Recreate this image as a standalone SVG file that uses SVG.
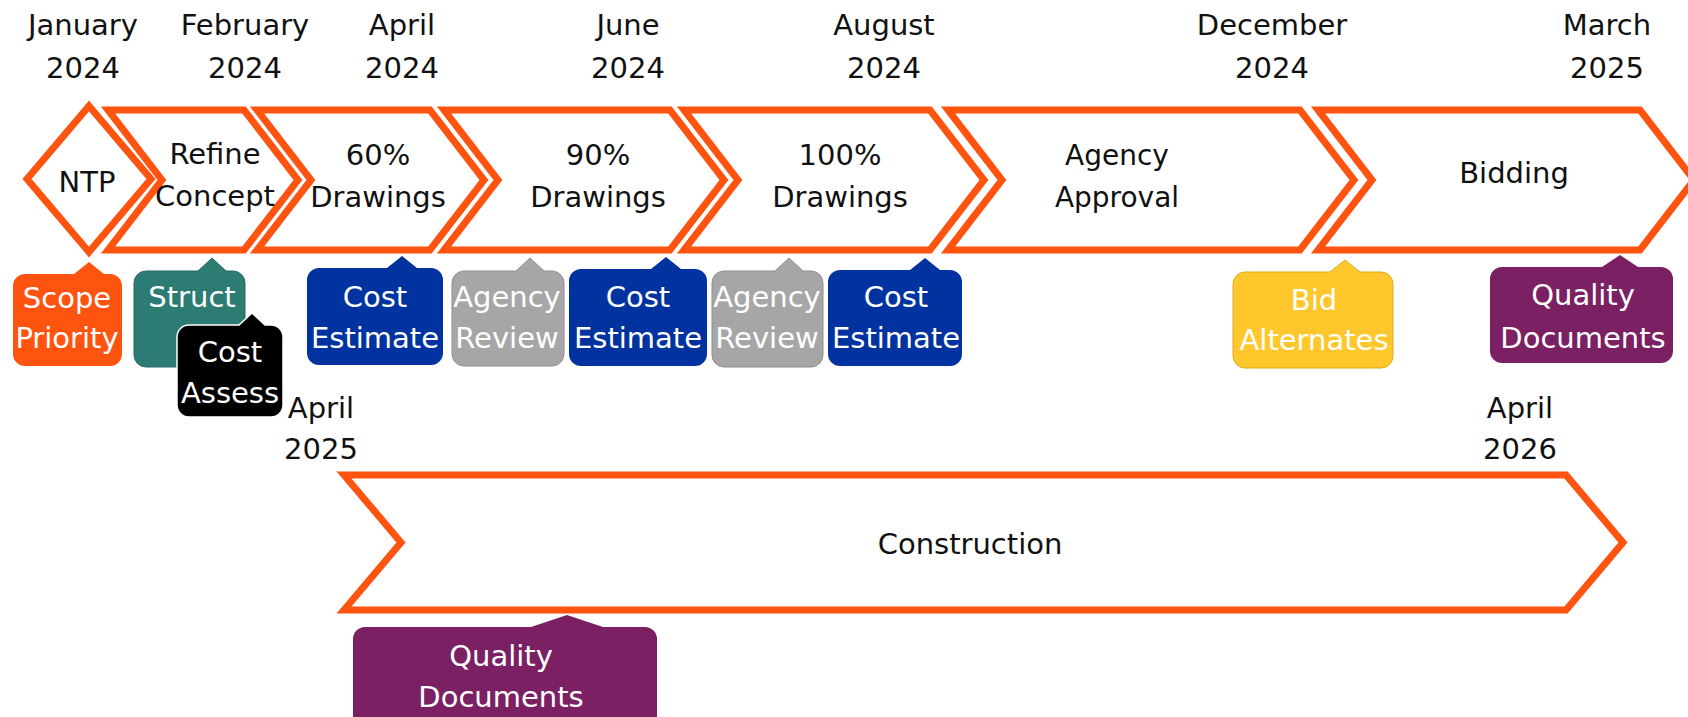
<svg xmlns="http://www.w3.org/2000/svg" width="1688" height="717" viewBox="0 0 1688 717">
<style>
.chev{fill:#fff;stroke:#FF5310;stroke-width:7;stroke-linejoin:miter;stroke-miterlimit:10}
.t{font-family:"DejaVu Sans","Liberation Sans",sans-serif;font-size:29px;fill:#111;text-anchor:middle}
.w{fill:#fff}
.c{font-size:28px}
</style>
<rect width="1688" height="717" fill="#fff"/>
<g id="dates">
<text class="t" x="83" y="35">January</text><text class="t" x="83" y="78">2024</text>
<text class="t" x="245" y="35">February</text><text class="t" x="245" y="78">2024</text>
<text class="t" x="402" y="35">April</text><text class="t" x="402" y="78">2024</text>
<text class="t" x="628" y="35">June</text><text class="t" x="628" y="78">2024</text>
<text class="t" x="884" y="35">August</text><text class="t" x="884" y="78">2024</text>
<text class="t" x="1272" y="35">December</text><text class="t" x="1272" y="78">2024</text>
<text class="t" x="1607" y="35">March</text><text class="t" x="1607" y="78">2025</text>
<text class="t" x="321" y="418">April</text><text class="t" x="321" y="459">2025</text>
<text class="t" x="1520" y="418">April</text><text class="t" x="1520" y="459">2026</text>
</g>
<g id="ntp"><path class="chev" d="M89,106 L151,179 L89,252 L27,179 Z"/><text class="t" x="87" y="192">NTP</text></g>
<g id="refine"><path class="chev" d="M108,110 L244,110 L298,180 L244,250 L108,250 L162,180 Z"/><text class="t" x="215" y="164">Refine</text><text class="t" x="215" y="206">Concept</text></g>
<g id="d60"><path class="chev" d="M257,110 L430,110 L484,180 L430,250 L257,250 L311,180 Z"/><text class="t" x="378" y="165">60%</text><text class="t" x="378" y="207">Drawings</text></g>
<g id="d90"><path class="chev" d="M444,110 L670,110 L724,180 L670,250 L444,250 L498,180 Z"/><text class="t" x="598" y="165">90%</text><text class="t" x="598" y="207">Drawings</text></g>
<g id="d100"><path class="chev" d="M684,110 L930,110 L984,180 L930,250 L684,250 L738,180 Z"/><text class="t" x="840" y="165">100%</text><text class="t" x="840" y="207">Drawings</text></g>
<g id="agency"><path class="chev" d="M948,110 L1300,110 L1354,180 L1300,250 L948,250 L1002,180 Z"/><text class="t c" x="1117" y="165">Agency</text><text class="t c" x="1117" y="207">Approval</text></g>
<g id="bidding"><path class="chev" d="M1318,110 L1640,110 L1694,180 L1640,250 L1318,250 L1372,180 Z"/><text class="t" x="1514" y="183">Bidding</text></g>
<g id="construction"><path class="chev" d="M344,475 L1566,475 L1623,542.5 L1566,610 L344,610 L401,542.5 Z"/><text class="t" x="970" y="554">Construction</text></g>
<g id="connectors"/>
<g id="scope"><path fill="#FF5310" d="M25,274 L74,274 L89,262 L104,274 L110,274 A12,12 0 0 1 122,286 L122,354 A12,12 0 0 1 110,366 L25,366 A12,12 0 0 1 13,354 L13,286 A12,12 0 0 1 25,274 Z"/><text class="t w" x="67" y="308">Scope</text><text class="t w" x="67" y="348">Priority</text></g>
<g id="struct"><path fill="#2C7C74" stroke="#256A63" stroke-width="1" d="M146,271 L198,271 L212,258 L226,271 L233,271 A12,12 0 0 1 245,283 L245,355 A12,12 0 0 1 233,367 L146,367 A12,12 0 0 1 134,355 L134,283 A12,12 0 0 1 146,271 Z"/><text class="t w" x="192" y="307">Struct</text></g>
<g id="costassess"><path fill="#000" stroke="#fff" stroke-width="1.5" d="M189,325 L239,325 L252,313 L265,325 L271,325 A12,12 0 0 1 283,337 L283,405 A12,12 0 0 1 271,417 L189,417 A12,12 0 0 1 177,405 L177,337 A12,12 0 0 1 189,325 Z"/><text class="t w" x="230" y="362">Cost</text><text class="t w" x="230" y="403">Assess</text></g>
<g id="cost1"><path fill="#0033A0" d="M319,268 L387,268 L402,256 L417,268 L431,268 A12,12 0 0 1 443,280 L443,353 A12,12 0 0 1 431,365 L319,365 A12,12 0 0 1 307,353 L307,280 A12,12 0 0 1 319,268 Z"/><text class="t w" x="375" y="307">Cost</text><text class="t w" x="375" y="348">Estimate</text></g>
<g id="review1"><path fill="#A6A6A6" stroke="#8F8F8F" stroke-width="1" d="M464,271 L516,271 L530,258 L544,271 L552,271 A12,12 0 0 1 564,283 L564,354 A12,12 0 0 1 552,366 L464,366 A12,12 0 0 1 452,354 L452,283 A12,12 0 0 1 464,271 Z"/><text class="t w" x="507" y="307">Agency</text><text class="t w" x="507" y="348">Review</text></g>
<g id="cost2"><path fill="#0033A0" d="M581,269 L651,269 L666,257 L681,269 L695,269 A12,12 0 0 1 707,281 L707,354 A12,12 0 0 1 695,366 L581,366 A12,12 0 0 1 569,354 L569,281 A12,12 0 0 1 581,269 Z"/><text class="t w" x="638" y="307">Cost</text><text class="t w" x="638" y="348">Estimate</text></g>
<g id="review2"><path fill="#A6A6A6" stroke="#8F8F8F" stroke-width="1" d="M724,271 L775,271 L789,258 L803,271 L811,271 A12,12 0 0 1 823,283 L823,355 A12,12 0 0 1 811,367 L724,367 A12,12 0 0 1 712,355 L712,283 A12,12 0 0 1 724,271 Z"/><text class="t w" x="767" y="307">Agency</text><text class="t w" x="767" y="348">Review</text></g>
<g id="cost3"><path fill="#0033A0" d="M840,270 L910,270 L925,258 L940,270 L950,270 A12,12 0 0 1 962,282 L962,354 A12,12 0 0 1 950,366 L840,366 A12,12 0 0 1 828,354 L828,282 A12,12 0 0 1 840,270 Z"/><text class="t w" x="896" y="307">Cost</text><text class="t w" x="896" y="348">Estimate</text></g>
<g id="bidalt"><path fill="#FFC72C" stroke="#E0AA20" stroke-width="1" d="M1245,272 L1330,272 L1345,260 L1360,272 L1381,272 A12,12 0 0 1 1393,284 L1393,356 A12,12 0 0 1 1381,368 L1245,368 A12,12 0 0 1 1233,356 L1233,284 A12,12 0 0 1 1245,272 Z"/><text class="t w" x="1314" y="310">Bid</text><text class="t w" x="1314" y="350">Alternates</text></g>
<g id="quality1"><path fill="#7B2062" d="M1502,267 L1602,267 L1620,255 L1638,267 L1661,267 A12,12 0 0 1 1673,279 L1673,351 A12,12 0 0 1 1661,363 L1502,363 A12,12 0 0 1 1490,351 L1490,279 A12,12 0 0 1 1502,267 Z"/><text class="t w" x="1583" y="305">Quality</text><text class="t w" x="1583" y="348">Documents</text></g>
<g id="quality2"><path fill="#7B2062" d="M365,627 L531,627 L567,615 L603,627 L645,627 A12,12 0 0 1 657,639 L657,737 L353,737 L353,639 A12,12 0 0 1 365,627 Z"/><text class="t w" x="501" y="666">Quality</text><text class="t w" x="501" y="707">Documents</text></g>
</svg>
